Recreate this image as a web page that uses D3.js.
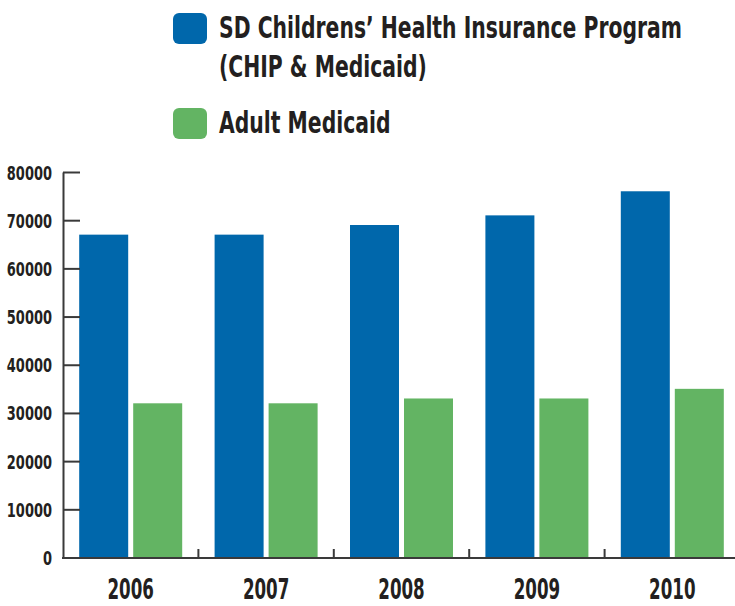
<!DOCTYPE html>
<html>
<head>
<meta charset="utf-8">
<script src="https://cdn.jsdelivr.net/npm/d3@7"></script>
<style>
  html, body { margin: 0; padding: 0; background: #fff; }
  svg { display: block; }
  text { font-family: "DejaVu Sans Condensed", "Liberation Sans Narrow", sans-serif; font-weight: bold; fill: #231f20; }
</style>
</head>
<body>
<svg id="chart" width="735" height="606"></svg>
<script>
// Enrollment by fiscal year
const years = ["2006", "2007", "2008", "2009", "2010"];
const seriesNames = ["SD Childrens\u2019 Health Insurance Program (CHIP & Medicaid)", "Adult Medicaid"];
const legendLines = [["SD Childrens\u2019 Health Insurance Program", "(CHIP & Medicaid)"], ["Adult Medicaid"]];
const chipValues = [67000, 67000, 69000, 71000, 76000];
const adultValues = [32000, 32000, 33000, 33000, 35000];
const yTicks = [0, 10000, 20000, 30000, 40000, 50000, 60000, 70000, 80000];
const seriesColors = ["#0067ab", "#63b463"];

const svg = d3.select("#chart");
const axisColor = "#3a3a3a";

const x0 = d3.scaleBand().domain(years).range([63, 740]).paddingInner(0).paddingOuter(0);
const x1 = d3.scaleBand().domain([0, 1]).range([0, x0.bandwidth()]).paddingInner(0.0926).paddingOuter(0.3);
const y = d3.scaleLinear().domain([0, 80000]).range([557.5, 172]);

const rows = years.map((yr, i) => ({ year: yr, values: [chipValues[i], adultValues[i]] }));

// Bars
const groups = svg.append("g").selectAll("g")
  .data(rows).join("g")
  .attr("transform", d => `translate(${x0(d.year)},0)`);
groups.selectAll("rect")
  .data(d => d.values.map((v, k) => ({ k, v })))
  .join("rect")
  .attr("x", d => x1(d.k))
  .attr("width", x1.bandwidth())
  .attr("y", d => y(d.v))
  .attr("height", d => y(0) - y(d.v))
  .attr("fill", d => seriesColors[d.k]);

// Y axis: ticks drawn inward, labels on the left in a condensed face
const yAxis = svg.append("g")
  .attr("transform", "translate(63,0)")
  .call(d3.axisRight(y).tickValues(yTicks).tickSize(17).tickFormat(d3.format("d")).tickSizeOuter(0));
yAxis.select(".domain").attr("stroke", axisColor).attr("stroke-width", 2);
yAxis.selectAll(".tick line").attr("stroke", axisColor).attr("stroke-width", 2);
yAxis.selectAll(".tick text")
  .attr("x", null).attr("dy", null)
  .attr("transform", "translate(-11,7) scale(0.76,1)")
  .attr("text-anchor", "end")
  .style("font-size", "19px");

// X axis with ticks at the band boundaries
const xAxisG = svg.append("g").attr("transform", `translate(0,${y(0) + 0.5})`);
xAxisG.append("line")
  .attr("x1", 62).attr("x2", 740)
  .attr("stroke", axisColor).attr("stroke-width", 2);
xAxisG.selectAll("line.sep")
  .data(years.slice(1))
  .join("line").attr("class", "sep")
  .attr("x1", d => x0(d)).attr("x2", d => x0(d))
  .attr("y1", -9).attr("y2", 0)
  .attr("stroke", axisColor).attr("stroke-width", 2);
xAxisG.selectAll("text")
  .data(years).join("text")
  .attr("transform", d => `translate(${x0(d) + x0.bandwidth() / 2},41) scale(0.64,1)`)
  .attr("text-anchor", "middle")
  .style("font-size", "29px")
  .text(d => d);

// Legend
const legendTops = [13, 108];
const legend = svg.append("g");
legendLines.forEach((lines, k) => {
  legend.append("rect")
    .attr("x", 173).attr("y", legendTops[k])
    .attr("width", 34).attr("height", 31)
    .attr("rx", 6).attr("ry", 6)
    .attr("fill", seriesColors[k]);
  lines.forEach((line, j) => {
    legend.append("text")
      .attr("transform", `translate(219,${legendTops[k] + 25 + j * 39}) scale(0.73,1)`)
      .style("font-size", "31px")
      .text(line);
  });
});
</script>
</body>
</html>
